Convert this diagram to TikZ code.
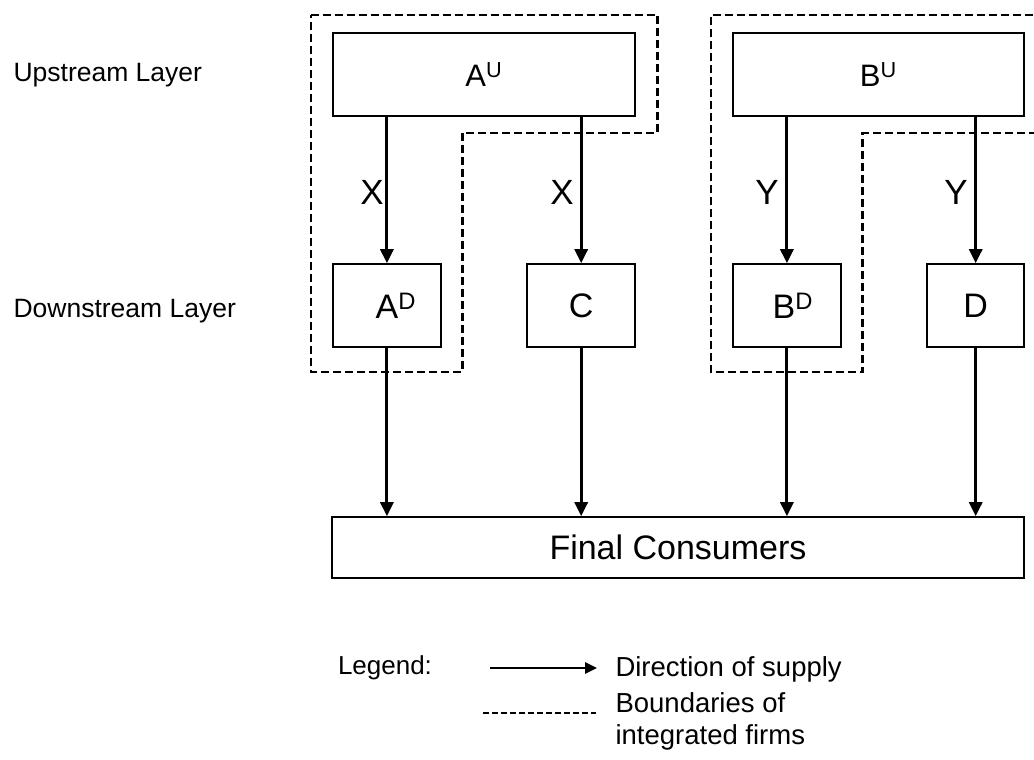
\documentclass[tikz,border=0pt]{standalone}
\usepackage{fontspec}
\setmainfont{Liberation Sans}
\usetikzlibrary{arrows.meta}

\begin{document}
\begin{tikzpicture}[x=1pt,y=-1pt,
    firm/.style={draw,line width=1.6pt,inner sep=0pt,font=\fontsize{34}{38}\selectfont},
    layer/.style={anchor=west,font=\fontsize{26.5}{30}\selectfont},
    goods/.style={font=\fontsize{35}{40}\selectfont},
    legtext/.style={anchor=west,align=left,font=\fontsize{27.5}{32}\selectfont},
    supply/.style={line width=3pt,-{Triangle[width=13pt,length=14pt]}},
    bound/.style={line width=2.5pt,dash pattern=on 8pt off 4pt}]
    \clip (0,0) rectangle (1034,760);

    % Layers
    \node[layer] (up) at (10,75) {Upstream Layer};
    \node[layer] (down) at (10,311) {Downstream Layer};

    % Firms
    \node[firm,minimum width=302pt,minimum height=83pt,font=\fontsize{31}{36}\selectfont] (au) at (483.9,74.5) {A\textsuperscript{U}};
    \node[firm,minimum width=291pt,minimum height=83pt,font=\fontsize{31}{36}\selectfont] (bu) at (878.4,74.5) {B\textsuperscript{U}};
    \node[firm,minimum width=108pt,minimum height=83pt] (ad) at (386.9,305.5) {\hspace*{18pt}A\textsuperscript{D}};
    \node[firm,minimum width=108pt,minimum height=83pt] (c) at (581.2,305.5) {C};
    \node[firm,minimum width=108pt,minimum height=83pt] (bd) at (786.9,305.5) {\hspace*{12pt}B\textsuperscript{D}};
    \node[firm,minimum width=97pt,minimum height=83pt] (d) at (975.7,305.5) {D};
    \node[firm,minimum width=692pt,minimum height=61pt] (fc) at (678,547.5) {Final Consumers};

    % Supply
    \draw[supply] (au.south -| ad.north) -- (ad.north);
    \draw[supply] (au.south -| c.north) -- (c.north);
    \draw[supply] (bu.south -| bd.north) -- (bd.north);
    \draw[supply] (bu.south -| d.north) -- (d.north);
    \foreach \f in {ad,c,bd,d}
        \draw[supply] (\f.south) -- (fc.north -| \f.south);

    % Inputs
    \node[goods] (x1) at (372,192) {X};
    \node[goods] (x2) at (562,192) {X};
    \node[goods] (y1) at (767,192) {Y};
    \node[goods] (y2) at (956,192) {Y};

    % Integrated firms
    \draw[bound] (311,15) -- (657.7,15) -- (657.7,133) -- (462.5,133) -- (462.5,372) -- (311,372) -- cycle;
    \draw[bound] (1045,15) -- (711,15) -- (711,372) -- (862.5,372) -- (862.5,133) -- (1045,133);

    % Legend
    \node[font=\fontsize{26}{30}\selectfont] (leg) at (385,668) {Legend:};
    \coordinate (l1a) at (490,668);
    \coordinate (l1b) at (597,668);
    \draw[supply,line width=2.5pt,-{Triangle[width=11pt,length=12pt]}] (l1a) -- (l1b);
    \node[legtext] (dir) at (612,669) {Direction of supply};
    \coordinate (l2a) at (483,713);
    \coordinate (l2b) at (596,713);
    \draw[line width=2.2pt,dash pattern=on 6pt off 3pt] (l2a) -- (l2b);
    \node[legtext] (bnd) at (612,721) {Boundaries of\\ integrated firms};
\end{tikzpicture}
\end{document}
